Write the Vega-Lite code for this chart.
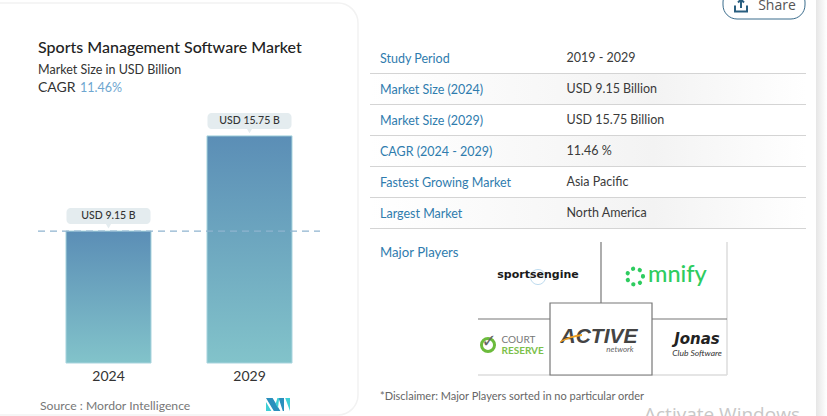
{
"$schema":"https://vega.github.io/schema/vega-lite/v6.json",
"width":827,"height":416,"padding":0,"autosize":{"type":"none"},"background":"#ffffff",
"config":{"view":{"stroke":null},"font":"Lato","text":{"font":"Lato"}},
"title":{"text":"Sports Management Software Market","subtitle":"Market Size in USD Billion","anchor":"start","frame":"group","dx":38,"offset":-89,"font":"Lato","fontSize":16,"fontWeight":500,"color":"#222222","subtitleFont":"Lato","subtitleFontSize":12.5,"subtitleFontWeight":400,"subtitleColor":"#333333","subtitlePadding":8},
"datasets":{
"market":[{"year":"2024","size":9.15,"label":"USD 9.15 B"},{"year":"2029","size":15.75,"label":"USD 15.75 B"}],
"summary":[{"metric":"Study Period","value":"2019 - 2029"},{"metric":"Market Size (2024)","value":"USD 9.15 Billion"},{"metric":"Market Size (2029)","value":"USD 15.75 Billion"},{"metric":"CAGR (2024 - 2029)","value":"11.46 %"},{"metric":"Fastest Growing Market","value":"Asia Pacific"},{"metric":"Largest Market","value":"North America"}]
},
"resolve":{"scale":{"x":"independent","y":"independent","color":"independent"},"axis":{"x":"independent","y":"independent"}},
"layer":[
{"data":{"values":[{"panel":"card"}]},"mark":{"type":"rect","fill":"#ffffff","stroke":"#f2f2f2","strokeWidth":1.5,"cornerRadius":20},
 "encoding":{"x":{"field":"panel","type":"nominal","axis":null,"scale":{"type":"band","range":[-20,358],"padding":0}},"y":{"field":"panel","type":"nominal","axis":null,"scale":{"type":"band","range":[3,415],"padding":0}}}},
{"data":{"values":[{"panel":"edge"}]},"mark":{"type":"rect","color":{"gradient":"linear","x1":0,"y1":0,"x2":1,"y2":0,"stops":[{"offset":0,"color":"#e6e6e6"},{"offset":1,"color":"#ffffff"}]}},
 "encoding":{"x":{"field":"panel","type":"nominal","axis":null,"scale":{"type":"band","range":[816,827],"padding":0}},"y":{"field":"panel","type":"nominal","axis":null,"scale":{"type":"band","range":[0,416],"padding":0}}}},
{"data":{"values":[{"panel":"Share"}]},
 "encoding":{"x":{"field":"panel","type":"nominal","axis":null,"scale":{"type":"band","range":[723,805],"padding":0}},"y":{"field":"panel","type":"nominal","axis":null,"scale":{"type":"band","range":[-12,19],"padding":0}}},
 "layer":[
  {"mark":{"type":"rect","fill":"#ffffff","stroke":"#3a6c8c","strokeWidth":1,"cornerRadius":14}},
  {"mark":{"type":"text","text":"Share","font":"Open Sans","fontSize":14,"color":"#555555","dx":13,"dy":2,"baseline":"middle","align":"center"}},
  {"mark":{"type":"point","filled":false,"stroke":"#2a5f80","strokeWidth":2,"size":144,"shape":"M-1,0 V1 H1 V0 M0,0.4 V-1 M-0.5,-0.5 L0,-1 L0.5,-0.5","opacity":1,"xOffset":-23,"yOffset":2}}
 ]},
{"data":{"name":"market"},
 "encoding":{"x":{"field":"year","type":"ordinal","scale":{"type":"band","range":[38,320],"paddingInner":0.397,"paddingOuter":0.1985},"axis":{"title":null,"offset":-53,"zindex":1,"domain":false,"ticks":false,"grid":false,"labelAngle":0,"labelFont":"Lato","labelFontSize":14,"labelColor":"#333333","labelPadding":6}},
 "y":{"field":"size","type":"quantitative","scale":{"domain":[0,18.24],"range":[363,100],"nice":false,"zero":true},"axis":null}},
 "layer":[
  {"mark":{"type":"bar","stroke":"#a8d4de","strokeWidth":1,"color":{"gradient":"linear","x1":0,"y1":0,"x2":0,"y2":1,"stops":[{"offset":0,"color":"#5b8eb6"},{"offset":1,"color":"#82c3ca"}]}}},
  {"mark":{"type":"tick","orient":"horizontal","size":84,"thickness":16,"cornerRadius":4,"color":"#e4ecef","opacity":1,"yOffset":-15}},
  {"mark":{"type":"point","shape":"triangle-down","filled":true,"color":"#e4ecef","opacity":1,"size":30,"yOffset":-5}},
  {"mark":{"type":"text","font":"Lato","fontSize":10.5,"fontWeight":500,"color":"#333333","dy":-15,"baseline":"middle"},"encoding":{"text":{"field":"label"}}}
 ]},
{"mark":{"type":"rule","stroke":"#8fb4d0","strokeWidth":1.2,"strokeDash":[7,5]},"data":{"values":[{"reference":"2024 market size"}]},
 "encoding":{"x":{"datum":0,"type":"quantitative","axis":null,"scale":{"domain":[0,1],"range":[38,320]}},"x2":{"datum":1},"y":{"datum":9.15,"type":"quantitative","axis":null,"scale":{"domain":[0,18.24],"range":[363,100],"nice":false}}}},
{"data":{"values":[{"part":"CAGR"}]},"mark":{"type":"text","align":"left","baseline":"middle","font":"Lato","fontSize":14,"color":"#333333"},
 "encoding":{"text":{"field":"part"},"x":{"field":"part","type":"nominal","axis":null,"scale":{"type":"point","range":[38,38],"padding":0}},"y":{"field":"part","type":"nominal","axis":null,"scale":{"type":"point","range":[88,88],"padding":0}}}},
{"data":{"values":[{"part":"11.46%"}]},"mark":{"type":"text","align":"left","baseline":"middle","font":"Lato","fontSize":12.5,"color":"#6ea6d0"},
 "encoding":{"text":{"field":"part"},"x":{"field":"part","type":"nominal","axis":null,"scale":{"type":"point","range":[80,80],"padding":0}},"y":{"field":"part","type":"nominal","axis":null,"scale":{"type":"point","range":[88,88],"padding":0}}}},
{"data":{"values":[{"source":"Source :  Mordor Intelligence"}]},"mark":{"type":"text","align":"left","baseline":"middle","font":"Lato","fontSize":12.2,"color":"#777777"},
 "encoding":{"text":{"field":"source"},"x":{"field":"source","type":"nominal","axis":null,"scale":{"type":"point","range":[40,40],"padding":0}},"y":{"field":"source","type":"nominal","axis":null,"scale":{"type":"point","range":[406,406],"padding":0}}}},
{"data":{"values":[{"brand":"Mordor"}]},
 "encoding":{"x":{"field":"brand","type":"nominal","axis":null,"scale":{"type":"point","range":[278,278],"padding":0}},"y":{"field":"brand","type":"nominal","axis":null,"scale":{"type":"point","range":[404.5,404.5],"padding":0}}},
 "layer":[
  {"mark":{"type":"point","filled":true,"opacity":1,"color":"#2a8fbd","size":576,"shape":"M-1,-0.55 L-0.45,-0.55 L0.2,0.55 L-0.35,0.55 Z M0.05,-0.55 L0.5,-0.55 L0.5,0.55 L0.4,0.55 Z"}},
  {"mark":{"type":"point","filled":true,"opacity":1,"color":"#3fd0d6","size":576,"shape":"M-1,-0.2 L-0.55,0.55 L-1,0.55 Z M-0.2,-0.05 L0,0.3 L0.1,-0.55 L-0.05,-0.55 Z M0.6,-0.55 L1,-0.55 L1,0.55 Z"}}
 ]},
{"data":{"name":"summary"},"transform":[{"filter":{"field":"metric","oneOf":["Market Size (2024)","CAGR (2024 - 2029)","Largest Market"]}}],
 "mark":{"type":"rect","color":{"gradient":"linear","x1":0,"y1":0,"x2":1,"y2":0,"stops":[{"offset":0,"color":"#ffffff"},{"offset":0.65,"color":"#f3f3f3"},{"offset":1,"color":"#ffffff"}]}},
 "encoding":{"x":{"datum":0,"type":"quantitative","axis":null,"scale":{"domain":[0,1],"range":[370,806]}},"x2":{"datum":1},
 "y":{"field":"metric","type":"ordinal","axis":null,"scale":{"type":"band","domain":["Study Period","Market Size (2024)","Market Size (2029)","CAGR (2024 - 2029)","Fastest Growing Market","Largest Market"],"range":[42.5,228.5],"padding":0}}}},
{"data":{"name":"summary"},"mark":{"type":"rule","stroke":"#d4d4d4","strokeWidth":1.2},
 "encoding":{"x":{"datum":0,"type":"quantitative","axis":null,"scale":{"domain":[0,1],"range":[370,806]}},"x2":{"datum":1},
 "y":{"field":"metric","type":"ordinal","bandPosition":1,"axis":null,"scale":{"type":"band","domain":["Study Period","Market Size (2024)","Market Size (2029)","CAGR (2024 - 2029)","Fastest Growing Market","Largest Market"],"range":[42.5,228.5],"padding":0}}}},
{"data":{"name":"summary"},
 "encoding":{"y":{"field":"metric","type":"ordinal","axis":null,"scale":{"type":"band","domain":["Study Period","Market Size (2024)","Market Size (2029)","CAGR (2024 - 2029)","Fastest Growing Market","Largest Market"],"range":[42.5,228.5],"padding":0}},
 "x":{"datum":"metric","type":"nominal","axis":null,"scale":{"type":"point","domain":["metric","value"],"range":[380,566.5],"padding":0}}},
 "layer":[
  {"mark":{"type":"text","align":"left","baseline":"middle","font":"Lato","fontSize":12.5,"color":"#2f7cae","dy":1},"encoding":{"text":{"field":"metric"}}},
  {"mark":{"type":"text","align":"left","baseline":"middle","font":"Lato","fontSize":12.5,"color":"#3a3a3a","dy":0},"encoding":{"x":{"datum":"value","type":"nominal","axis":null,"scale":{"type":"point","domain":["metric","value"],"range":[380,566.5],"padding":0}},"text":{"field":"value"}}}
 ]},
{"data":{"values":[{"note":"Major Players"}]},"mark":{"type":"text","align":"left","baseline":"middle","font":"Lato","fontSize":13.2,"color":"#2f7cae"},
 "encoding":{"text":{"field":"note"},"x":{"field":"note","type":"nominal","axis":null,"scale":{"type":"point","range":[380,380],"padding":0}},"y":{"field":"note","type":"nominal","axis":null,"scale":{"type":"point","range":[252.5,252.5],"padding":0}}}},
{"data":{"values":[{"note":"*Disclaimer: Major Players sorted in no particular order"}]},"mark":{"type":"text","align":"left","baseline":"middle","font":"Lato","fontSize":11,"color":"#666666"},
 "encoding":{"text":{"field":"note"},"x":{"field":"note","type":"nominal","axis":null,"scale":{"type":"point","range":[380,380],"padding":0}},"y":{"field":"note","type":"nominal","axis":null,"scale":{"type":"point","range":[397,397],"padding":0}}}},
{"data":{"values":[{"grid":"players"}]},"layer":[
 {"mark":{"type":"rule","stroke":"#dddddd","strokeWidth":1.5},"encoding":{"x":{"datum":249,"type":"quantitative","axis":null,"scale":{"domain":[0,249],"range":[478,727]}},"y":{"datum":0,"type":"quantitative","axis":null,"scale":{"domain":[0,133],"range":[242,375]}},"y2":{"datum":133}}},
 {"mark":{"type":"rule","stroke":"#dddddd","strokeWidth":1.5},"encoding":{"x":{"datum":0,"type":"quantitative","axis":null,"scale":{"domain":[0,249],"range":[478,727]}},"x2":{"datum":249},"y":{"datum":133,"type":"quantitative","axis":null,"scale":{"domain":[0,133],"range":[242,375]}}}},
 {"mark":{"type":"rule","stroke":"#777777","strokeWidth":1.2},"encoding":{"x":{"datum":123,"type":"quantitative","axis":null,"scale":{"domain":[0,249],"range":[478,727]}},"y":{"datum":0,"type":"quantitative","axis":null,"scale":{"domain":[0,133],"range":[242,375]}},"y2":{"datum":61}}},
 {"mark":{"type":"rule","stroke":"#777777","strokeWidth":1.2},"encoding":{"x":{"datum":0,"type":"quantitative","axis":null,"scale":{"domain":[0,249],"range":[478,727]}},"x2":{"datum":72},"y":{"datum":77,"type":"quantitative","axis":null,"scale":{"domain":[0,133],"range":[242,375]}}}},
 {"mark":{"type":"rule","stroke":"#777777","strokeWidth":1.2},"encoding":{"x":{"datum":174,"type":"quantitative","axis":null,"scale":{"domain":[0,249],"range":[478,727]}},"x2":{"datum":249},"y":{"datum":77,"type":"quantitative","axis":null,"scale":{"domain":[0,133],"range":[242,375]}}}},
 {"mark":{"type":"rect","fill":"#ffffff","stroke":"#777777","strokeWidth":1.2},"encoding":{"x":{"datum":72,"type":"quantitative","axis":null,"scale":{"domain":[0,249],"range":[478,727]}},"x2":{"datum":174},"y":{"datum":61,"type":"quantitative","axis":null,"scale":{"domain":[0,133],"range":[242,375]}},"y2":{"datum":133}}}
]},
{"data":{"values":[{"player":"sportsengine"}]},"encoding":{"x":{"field":"player","type":"nominal","axis":null,"scale":{"type":"point","range":[538,538],"padding":0}},"y":{"field":"player","type":"nominal","axis":null,"scale":{"type":"point","range":[275,275],"padding":0}}},"layer":[
 {"mark":{"type":"point","filled":false,"stroke":"#bfdcef","strokeWidth":1,"opacity":1,"size":230,"yOffset":2}},
 {"mark":{"type":"text","font":"DejaVu Sans","fontWeight":"bold","fontSize":11,"color":"#1a1a1a","baseline":"middle"},"encoding":{"text":{"field":"player"}}}
]},
{"data":{"values":[{"player":"omnify"}]},"encoding":{"x":{"field":"player","type":"nominal","axis":null,"scale":{"type":"point","range":[635,635],"padding":0}},"y":{"field":"player","type":"nominal","axis":null,"scale":{"type":"point","range":[276.5,276.5],"padding":0}}},"layer":[
 {"mark":{"type":"point","filled":false,"stroke":"#2ecc5f","strokeWidth":4.2,"strokeCap":"round","strokeDash":[0.1,6.96],"opacity":1,"size":254}},
 {"mark":{"type":"text","text":"mnify","font":"Lato","fontWeight":500,"fontSize":23.5,"color":"#2ecc5f","align":"left","baseline":"middle","dx":13,"dy":-1.5}}
]},
{"data":{"values":[{"player":"Court Reserve"}]},"encoding":{"x":{"field":"player","type":"nominal","axis":null,"scale":{"type":"point","range":[488,488],"padding":0}},"y":{"field":"player","type":"nominal","axis":null,"scale":{"type":"point","range":[345,345],"padding":0}}},"layer":[
 {"mark":{"type":"point","filled":false,"stroke":"#6cbb3c","strokeWidth":3,"opacity":1,"size":170}},
 {"mark":{"type":"text","text":"✓","font":"DejaVu Sans","fontWeight":"bold","fontSize":18,"color":"#666666","baseline":"middle","dy":-3,"dx":1}},
 {"mark":{"type":"text","text":"COURT","font":"Lato","fontSize":10,"color":"#777777","align":"left","baseline":"middle","dx":13.5,"dy":-5}},
 {"mark":{"type":"text","text":"RESERVE","font":"Lato","fontWeight":"bold","fontSize":10,"color":"#7cc04a","align":"left","baseline":"middle","dx":13.5,"dy":6}}
]},
{"data":{"values":[{"player":"ACTIVE network"}]},"encoding":{"x":{"field":"player","type":"nominal","axis":null,"scale":{"type":"point","range":[599,599],"padding":0}},"y":{"field":"player","type":"nominal","axis":null,"scale":{"type":"point","range":[336.5,336.5],"padding":0}}},"layer":[
 {"mark":{"type":"text","text":"ACTIVE","font":"Liberation Sans","fontStyle":"italic","fontWeight":"bold","fontSize":21,"color":"#444444","baseline":"middle"}},
 {"mark":{"type":"point","filled":true,"opacity":1,"color":"#f0a020","size":1600,"shape":"M-1,0.25 Q-0.5,-0.05 0.1,-0.12 L0.1,-0.02 Q-0.5,0.05 -1,0.3 Z","xOffset":-19}},
 {"mark":{"type":"text","text":"network","font":"Lato","fontStyle":"italic","fontSize":8,"color":"#666666","baseline":"middle","dx":21,"dy":13}}
]},
{"data":{"values":[{"player":"Jonas"}]},"encoding":{"x":{"field":"player","type":"nominal","axis":null,"scale":{"type":"point","range":[697,697],"padding":0}},"y":{"field":"player","type":"nominal","axis":null,"scale":{"type":"point","range":[341,341],"padding":0}}},"layer":[
 {"mark":{"type":"text","text":"Jonas","font":"DejaVu Sans","fontStyle":"italic","fontWeight":"bold","fontSize":15,"color":"#222222","baseline":"middle","dy":-2}},
 {"mark":{"type":"text","text":"Club Software","font":"Lato","fontStyle":"italic","fontSize":8.5,"color":"#333333","baseline":"middle","dy":12}}
]},
{"data":{"values":[{"note":"Activate Windows"}]},"mark":{"type":"text","align":"left","baseline":"alphabetic","font":"Open Sans","fontSize":19,"color":"#c8c8c8"},
 "encoding":{"text":{"field":"note"},"x":{"field":"note","type":"nominal","axis":null,"scale":{"type":"point","range":[644,644],"padding":0}},"y":{"field":"note","type":"nominal","axis":null,"scale":{"type":"point","range":[421,421],"padding":0}}}}
]
}
